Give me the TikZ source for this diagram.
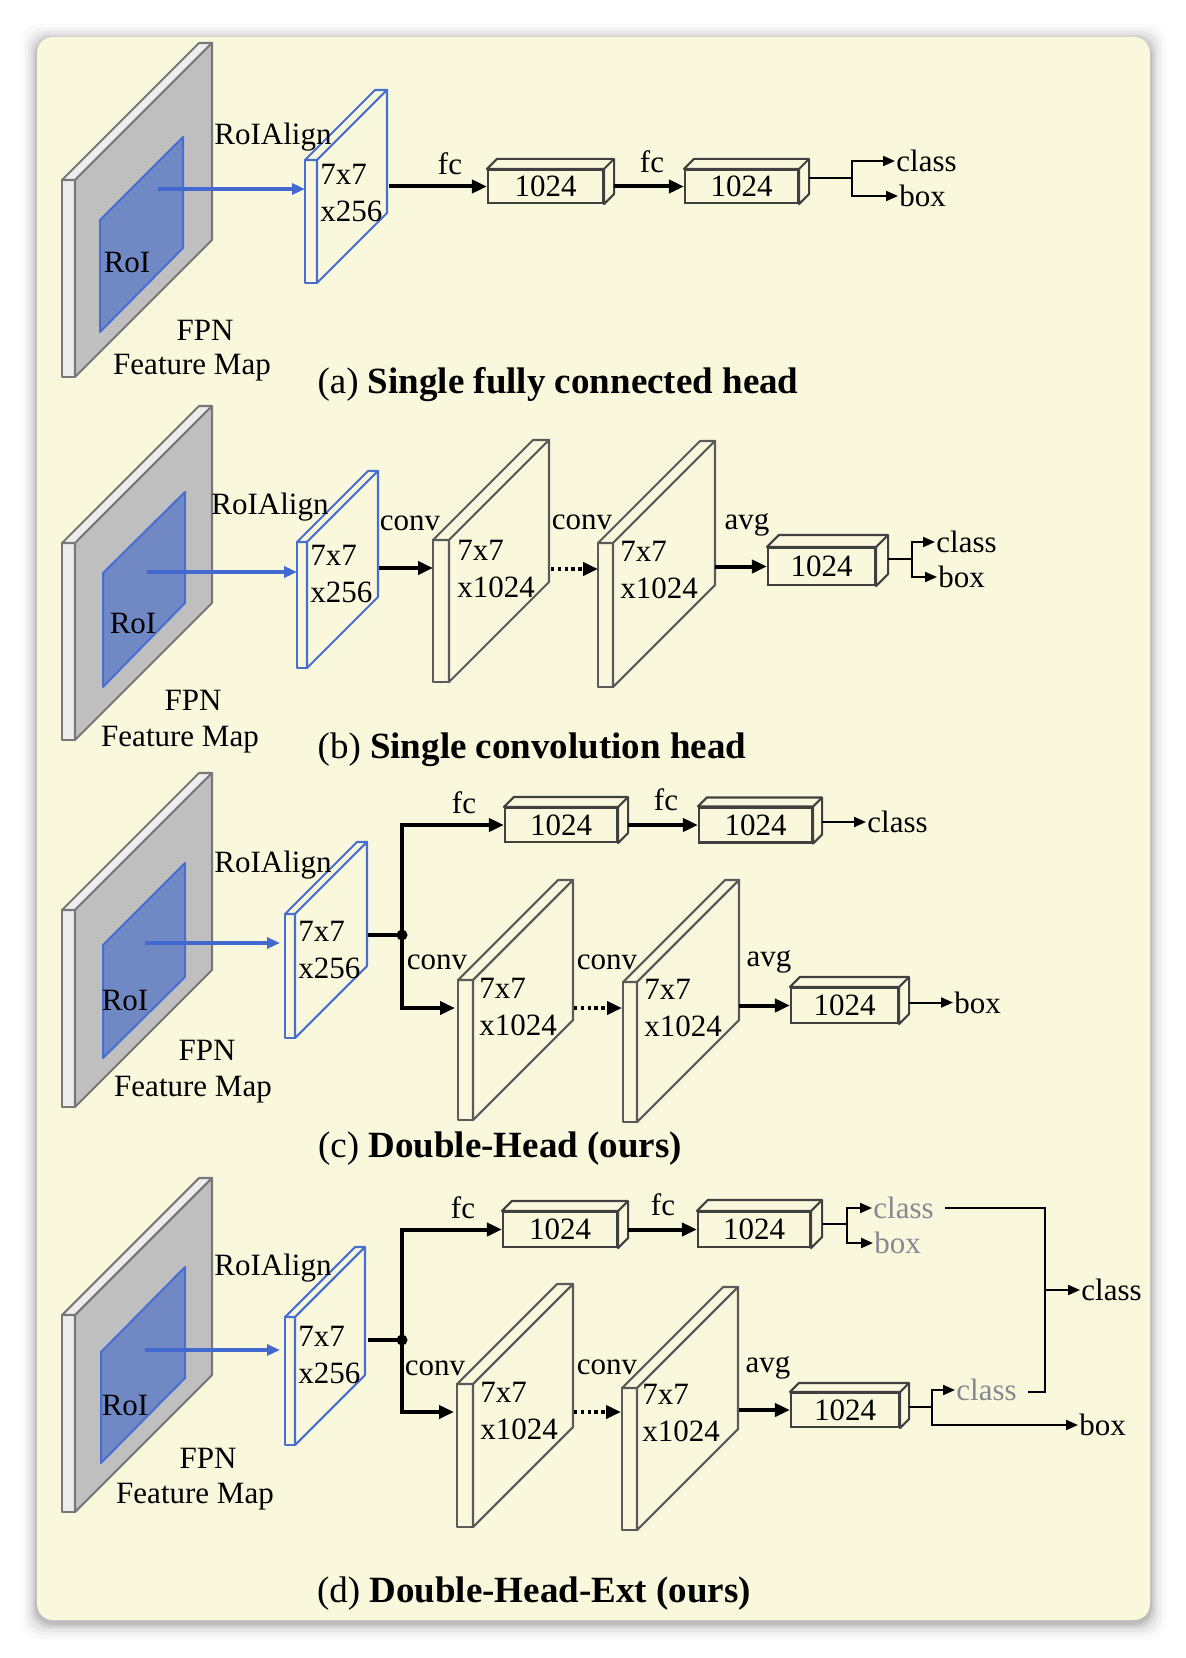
\documentclass[tikz,border=0pt]{standalone}
\usepackage{fontspec}
\setmainfont{Liberation Serif}
\usetikzlibrary{arrows.meta,calc}
\definecolor{cream}{RGB}{250,248,220}
\definecolor{fmgray}{RGB}{191,191,191}
\definecolor{fmlight}{RGB}{237,237,237}
\definecolor{fmline}{RGB}{120,120,120}
\definecolor{roifill}{RGB}{112,137,196}
\definecolor{roiline}{RGB}{72,110,210}
\definecolor{blueline}{RGB}{66,105,208}
\definecolor{slabline}{RGB}{90,90,90}
\definecolor{boxline}{RGB}{64,64,64}
\definecolor{gtext}{RGB}{135,135,145}
\newcommand\drawslab[9]{%
 \filldraw[#1, fill=#7] (#2,#3) rectangle ++(#4,#5);
 \filldraw[#1, fill=#8] (#2,#3) -- ++(#6,-#6) -- ++(#4,0) -- ++(-#6,#6) -- cycle;
 \filldraw[#1, fill=#9] ($(#2,#3)+(#4,0)$) -- ++(#6,-#6) -- ++(0,#5) -- ++(-#6,#6) -- cycle;
}
\newcommand\mkdepth[2]{%
 \filldraw[draw=boxline, fill=cream, line width=1.05pt, line join=round] (#1.north west) -- ++(#2,-#2) -- ($(#1.north east)+(#2,-#2)$) -- ($(#1.south east)+(#2,-#2)$) -- (#1.south east) -- (#1.north east) -- cycle;
 \draw[draw=boxline, line width=1.05pt] (#1.north east) -- ++(#2,-#2);
}
\begin{document}
\begin{tikzpicture}[x=0.5pt,y=-0.5pt,
 lbl/.style={font=\fontsize{15.5}{18.5}\selectfont, inner sep=0.5pt},
 glbl/.style={lbl, text=gtext},
 txt77/.style={lbl, align=left, anchor=west, inner sep=0pt},
 captxt/.style={font=\fontsize{18.5}{22}\selectfont, inner sep=0pt},
 fcbox/.style={draw=boxline, fill=cream, line width=1.05pt, inner sep=0pt, font=\fontsize{15.5}{18}\selectfont},
 fmst/.style={draw=fmline, line width=1.05pt, line join=round},
 roist/.style={draw=roiline, fill=roifill, line width=1pt, line join=round},
 blueslab/.style={draw=roiline, line width=1.05pt, line join=round},
 convslab/.style={draw=slabline, line width=1.05pt, line join=round},
 thickarr/.style={line width=2pt, -{Triangle[length=7.5pt,width=6.5pt]}},
 thickln/.style={line width=2pt},
 dotarr/.style={line width=2pt, dash pattern=on 1.7pt off 1.7pt, -{Triangle[length=7.5pt,width=6.5pt]}},
 thinarr/.style={line width=1pt, -{Triangle[length=6pt,width=5pt]}},
 thinln/.style={line width=1pt},
 bluearr/.style={draw=blueline, line width=1.6pt, -{Triangle[length=6.5pt,width=5.5pt]}},
 dotnode/.style={circle, fill=black, inner sep=0pt, minimum size=5.5pt}
]
\useasboundingbox (0,0) rectangle (1186,1658);
\fill[white] (0,0) rectangle (1186,1658);
\foreach \i/\o in {16/0.02,12/0.03,9/0.04,6/0.05,4/0.06,2/0.08}
  \fill[black, opacity=\o, rounded corners=9pt] (37-\i,37-\i+3) rectangle (1150+\i,1620+\i+3);
\fill[cream, rounded corners=8pt] (37,37) rectangle (1150,1620);

% ================= (a) =================
\drawslab{fmst}{62}{180}{13}{197}{137}{fmlight}{fmlight}{fmgray}
\filldraw[roist] (100,220) -- (183,137) -- (183,248) -- (100,332) -- cycle;
\drawslab{blueslab}{305}{160}{12}{123}{70}{cream}{cream}{cream}
\coordinate (aroi) at (158,189);
\coordinate (a7in) at (305,189);
\draw[bluearr] (aroi) -- (a7in);
\node[lbl] (aroit) at (127,263) {RoI};
\node[lbl] (aalign) at (273,137) {RoIAlign};
\node[lbl] (afpn) at (205,330) {FPN};
\node[lbl] (afm) at (192,368) {Feature Map};
\node[txt77] (a7t) at (320,193.5) {7x7\\x256};
\coordinate (a7out) at (389,186.5);
\node[fcbox, minimum width=57.5pt, minimum height=16.5pt] (a1) at (545.5,186.5) {1024};
\mkdepth{a1}{10}
\node[fcbox, minimum width=56.5pt, minimum height=16.5pt] (a2) at (741.5,186.5) {1024};
\mkdepth{a2}{10}
\draw[thickarr] (a7out) -- (a1.west);
\node[lbl] (afc1) at (450,164) {fc};
\draw[thickarr] ($(a1.east)+(10,0)$) -- (a2.west);
\node[lbl] (afc2) at (652,162) {fc};
\coordinate (asp) at (852,178.5);
\node[lbl, anchor=west] (acls) at (895,161) {class};
\node[lbl, anchor=west] (abox) at (898,196) {box};
\draw[thinln] ($(a2.east)+(10,-8)$) -- (asp);
\draw[thinarr] (asp) |- (acls.west);
\draw[thinarr] (asp) |- (abox.west);
\node[captxt] (acap) at (558,385) {(a) \textbf{Single fully connected head}};

% ================= (b) =================
\drawslab{fmst}{62}{543}{13}{197}{137}{fmlight}{fmlight}{fmgray}
\filldraw[roist] (103,573) -- (185,492) -- (185,603) -- (103,687) -- cycle;
\drawslab{blueslab}{297}{542}{10}{126}{71}{cream}{cream}{cream}
\coordinate (broi) at (147,572);
\coordinate (b7in) at (297,572);
\draw[bluearr] (broi) -- (b7in);
\node[lbl] (broit) at (133,623) {RoI};
\node[lbl] (balign) at (270,507) {RoIAlign};
\node[lbl] (bfpn) at (193,700) {FPN};
\node[lbl] (bfm) at (180,740) {Feature Map};
\node[txt77] (b7t) at (310,574) {7x7\\x256};
\drawslab{convslab}{433}{540}{16}{142}{100}{cream}{cream}{cream}
\node[txt77] (bc1t) at (457,568.5) {7x7\\x1024};
\drawslab{convslab}{598}{543}{15}{144}{102}{cream}{cream}{cream}
\node[txt77] (bc2t) at (620,570) {7x7\\x1024};
\coordinate (b7out) at (379,568);
\coordinate (bc1in) at (433,568);
\draw[thickarr] (b7out) -- (bc1in);
\node[lbl] (bconv1) at (410,523) {conv};
\coordinate (bc1out) at (551,569);
\coordinate (bc2in) at (598,569);
\draw[dotarr] (bc1out) -- (bc2in);
\node[lbl] (bconv2) at (582,522) {conv};
\node[fcbox, minimum width=53.5pt, minimum height=18.5pt] (b3) at (821.5,566.5) {1024};
\mkdepth{b3}{12}
\coordinate (bc2out) at (715,566.5);
\draw[thickarr] (bc2out) -- (b3.west);
\node[lbl] (bavg) at (747,525) {avg};
\coordinate (bsp) at (912,559);
\node[lbl, anchor=west] (bcls) at (935,542) {class};
\node[lbl, anchor=west] (bbox) at (937,577) {box};
\draw[thinln] ($(b3.east)+(12,-7.5)$) -- (bsp);
\draw[thinarr] (bsp) |- (bcls.west);
\draw[thinarr] (bsp) |- (bbox.west);
\node[captxt] (bcap) at (532,750) {(b) \textbf{Single convolution head}};

% ================= (c) =================
\drawslab{fmst}{62}{910}{13}{197}{137}{fmlight}{fmlight}{fmgray}
\filldraw[roist] (103,945) -- (185,863) -- (185,977) -- (103,1058) -- cycle;
\drawslab{blueslab}{285}{914}{10}{124}{72}{cream}{cream}{cream}
\coordinate (croi) at (145,943);
\coordinate (c7in) at (280,943);
\draw[bluearr] (croi) -- (c7in);
\node[lbl] (croit) at (125,1000) {RoI};
\node[lbl] (calign) at (273,865) {RoIAlign};
\node[lbl] (cfpn) at (207,1050) {FPN};
\node[lbl] (cfm) at (193,1090) {Feature Map};
\node[txt77] (c7t) at (298,950) {7x7\\x256};
\coordinate (c7out) at (368,935);
\node[dotnode] (cdot) at (402,935) {};
\draw[thickln] (c7out) -- (cdot.center);
\node[fcbox, minimum width=56pt, minimum height=17pt] (c1) at (561,825) {1024};
\mkdepth{c1}{10}
\node[fcbox, minimum width=56.5pt, minimum height=17.5pt] (c2) at (755.5,825) {1024};
\mkdepth{c2}{9}
\draw[thickarr] (cdot.center) |- (c1.west);
\node[lbl] (cfc1) at (464,803) {fc};
\draw[thickarr] ($(c1.east)+(10,0)$) -- (c2.west);
\node[lbl] (cfc2) at (666,800) {fc};
\node[lbl, anchor=west] (ccls) at (866,822) {class};
\draw[thinarr] ($(c2.east)+(9,-3)$) -- (ccls.west);
\drawslab{convslab}{458}{980}{15}{140}{100}{cream}{cream}{cream}
\node[txt77] (cc1t) at (479,1007) {7x7\\x1024};
\drawslab{convslab}{623}{982}{14}{140}{102}{cream}{cream}{cream}
\node[txt77] (cc2t) at (644,1008) {7x7\\x1024};
\coordinate (cc1in) at (455,1008);
\draw[thickarr] (cdot.center) |- (cc1in);
\node[lbl] (cconv1) at (437,962) {conv};
\coordinate (cc1out) at (574,1008);
\coordinate (cc2in) at (622,1008);
\draw[dotarr] (cc1out) -- (cc2in);
\node[lbl] (cconv2) at (607,962) {conv};
\node[fcbox, minimum width=53.5pt, minimum height=17.5pt] (c3) at (844.5,1005.5) {1024};
\mkdepth{c3}{10}
\coordinate (cc2out) at (739,1005.5);
\draw[thickarr] (cc2out) -- (c3.west);
\node[lbl] (cavg) at (769,962) {avg};
\node[lbl, anchor=west] (cbox) at (953,1002.5) {box};
\draw[thinarr] ($(c3.east)+(10,-3)$) -- (cbox.west);
\node[captxt] (ccap) at (500,1149) {(c) \textbf{Double-Head (ours)}};

% ================= (d) =================
\drawslab{fmst}{62}{1315}{13}{197}{137}{fmlight}{fmlight}{fmgray}
\filldraw[roist] (101,1352) -- (185,1267) -- (185,1378) -- (101,1463) -- cycle;
\drawslab{blueslab}{285}{1317}{10}{128}{70}{cream}{cream}{cream}
\coordinate (droi) at (145,1350);
\coordinate (d7in) at (280,1350);
\draw[bluearr] (droi) -- (d7in);
\node[lbl] (droit) at (125,1405) {RoI};
\node[lbl] (dalign) at (273,1268) {RoIAlign};
\node[lbl] (dfpn) at (208,1458) {FPN};
\node[lbl] (dfm) at (195,1497) {Feature Map};
\node[txt77] (d7t) at (298,1355) {7x7\\x256};
\coordinate (d7out) at (368,1340);
\node[dotnode] (ddot) at (402,1340) {};
\draw[thickln] (d7out) -- (ddot.center);
\node[fcbox, minimum width=57pt, minimum height=17.5pt] (d1) at (560,1229.5) {1024};
\mkdepth{d1}{10}
\node[fcbox, minimum width=56pt, minimum height=17.5pt] (d2) at (754,1229.5) {1024};
\mkdepth{d2}{11}
\draw[thickarr] (ddot.center) |- (d1.west);
\node[lbl] (dfc1) at (463,1208) {fc};
\draw[thickarr] ($(d1.east)+(10,0)$) -- (d2.west);
\node[lbl] (dfc2) at (663,1205) {fc};
\coordinate (dsp) at (847,1223.5);
\node[glbl, anchor=west] (dgc1) at (872,1208) {class};
\node[glbl, anchor=west] (dgb1) at (873,1243) {box};
\draw[thinln] ($(d2.east)+(11,-6)$) -- (dsp);
\draw[thinarr] (dsp) |- (dgc1.west);
\draw[thinarr] (dsp) |- (dgb1.west);
\drawslab{convslab}{457}{1384}{16}{143}{100}{cream}{cream}{cream}
\node[txt77] (dc1t) at (480,1411) {7x7\\x1024};
\drawslab{convslab}{622}{1388}{15}{142}{101}{cream}{cream}{cream}
\node[txt77] (dc2t) at (642,1413) {7x7\\x1024};
\coordinate (dc1in) at (454,1412);
\draw[thickarr] (ddot.center) |- (dc1in);
\node[lbl] (dconv1) at (435,1368) {conv};
\coordinate (dc1out) at (574,1412);
\coordinate (dc2in) at (621,1412);
\draw[dotarr] (dc1out) -- (dc2in);
\node[lbl] (dconv2) at (607,1367) {conv};
\node[fcbox, minimum width=54pt, minimum height=17pt] (d3) at (845,1410) {1024};
\mkdepth{d3}{9}
\coordinate (dc2out) at (739,1410);
\draw[thickarr] (dc2out) -- (d3.west);
\node[lbl] (davg) at (768,1368) {avg};
\coordinate (dsp2) at (932,1407);
\node[glbl, anchor=west] (dgc2) at (955,1390) {class};
\node[lbl, anchor=west] (dbox) at (1078,1425) {box};
\draw[thinln] ($(d3.east)+(9,-3)$) -- (dsp2);
\draw[thinarr] (dsp2) |- (dgc2.west);
\draw[thinarr] (dsp2) |- (dbox.west);
\coordinate (dl1) at (945,1208);
\coordinate (dj1) at (1045,1208);
\coordinate (dj2) at (1045,1392);
\coordinate (dl2) at (1028,1392);
\coordinate (dj3) at (1045,1290);
\draw[thinln] (dl1) -- (dj1) -- (dj2) -- (dl2);
\node[lbl, anchor=west] (dcls) at (1080,1290) {class};
\draw[thinarr] (dj3) -- (dcls.west);
\node[captxt] (dcap) at (534,1594) {(d) \textbf{Double-Head-Ext (ours)}};
\end{tikzpicture}
\end{document}
